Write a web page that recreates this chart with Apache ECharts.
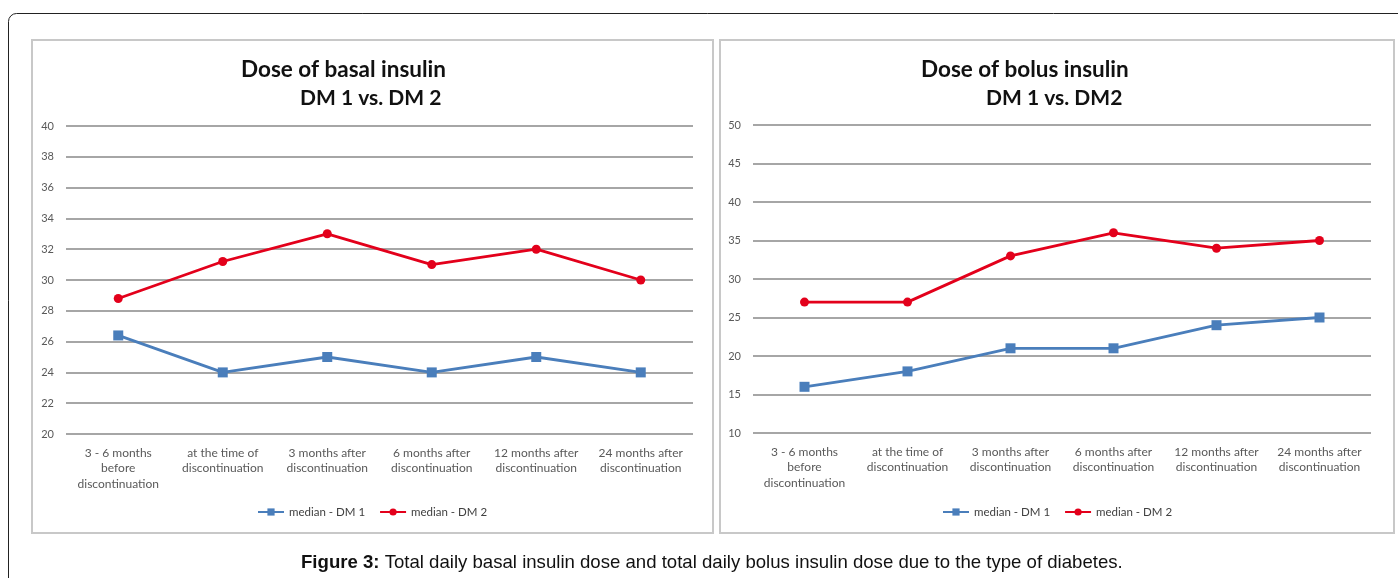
<!DOCTYPE html>
<html><head><meta charset="utf-8">
<script src="https://cdn.jsdelivr.net/npm/echarts@6/dist/echarts.min.js"></script>
<style>html,body{margin:0;padding:0;background:#fff}#c{width:1398px;height:578px}</style>
</head><body><div id="c"></div>
<script>
const categories = ["3 - 6 months\nbefore\ndiscontinuation","at the time of\ndiscontinuation","3 months after\ndiscontinuation","6 months after\ndiscontinuation","12 months after\ndiscontinuation","24 months after\ndiscontinuation"];
const basalDM1 = [26.4, 24, 25, 24, 25, 24];
const basalDM2 = [28.8, 31.2, 33, 31, 32, 30];
const bolusDM1 = [16, 18, 21, 21, 24, 25];
const bolusDM2 = [27, 27, 33, 36, 34, 35];
const basalTicks = {min: 20, max: 40, interval: 2};
const bolusTicks = {min: 10, max: 50, interval: 5};
const nameDM1 = "median - DM 1", nameDM2 = "median - DM 2";

const FONT = "Lato";
const blue = "#4a7ebb", red = "#e3001b";
const chart = echarts.init(document.getElementById('c'), null, {renderer:'canvas'});
function xAx(i){return {type:'category', gridIndex:i, data:categories, boundaryGap:true,
  axisLine:{show:false}, axisTick:{show:false},
  axisLabel:{interval:0, margin:11, color:'#595959', fontFamily:FONT, fontSize:12, lineHeight:15.5}};}
function yAx(i,t){return {type:'value', gridIndex:i, min:t.min, max:t.max, interval:t.interval,
  axisLine:{show:false}, axisTick:{show:false},
  axisLabel:{margin:12, color:'#595959', fontFamily:FONT, fontSize:11},
  splitLine:{lineStyle:{color:'#a6a6a6', width:1.8}}};}
function ser(name,i,data,color,sym){return {name:name, type:'line', xAxisIndex:i, yAxisIndex:i, data:data,
  symbol:sym, symbolSize:sym==='rect'?10:9, lineStyle:{color:color,width:2.8}, itemStyle:{color:color},
  animation:false};}
const legendCommon = {itemWidth:26, itemHeight:9, itemGap:14, textStyle:{color:'#404040', fontFamily:FONT, fontSize:11.5}};
chart.setOption({
  animation:false,
  title:[
    {text:'Dose of basal insulin', left:236, top:53, textStyle:{fontFamily:FONT, fontWeight:'bold', fontSize:22.5, color:'#111'}},
    {text:'DM 1 vs. DM 2', left:295, top:83, textStyle:{fontFamily:FONT, fontWeight:'bold', fontSize:21, color:'#111'}},
    {text:'Dose of bolus insulin', left:916, top:53, textStyle:{fontFamily:FONT, fontWeight:'bold', fontSize:22.5, color:'#111'}},
    {text:'DM 1 vs. DM2', left:981, top:83, textStyle:{fontFamily:FONT, fontWeight:'bold', fontSize:21, color:'#111'}},
    {text:'{b|Figure 3:} Total daily basal insulin dose and total daily bolus insulin dose due to the type of diabetes.', left:296, top:548,
     textStyle:{fontFamily:'Liberation Sans', fontSize:18.6, color:'#111', fontWeight:'normal', rich:{b:{fontFamily:'Liberation Sans', fontSize:18.6, fontWeight:'bold', color:'#111'}}}}
  ],
  graphic:[
    {type:'rect', shape:{x:8.5, y:13.5, width:1420, height:620, r:8}, style:{fill:'none', stroke:'#222', lineWidth:1}, silent:true},
    {type:'rect', shape:{x:32, y:40, width:681, height:493}, style:{fill:'none', stroke:'#c8c8c8', lineWidth:2}, silent:true},
    {type:'rect', shape:{x:720, y:40, width:674, height:493}, style:{fill:'none', stroke:'#c8c8c8', lineWidth:2}, silent:true}
  ],
  legend:[
    Object.assign({data:[nameDM1,nameDM2], left:252, top:501}, legendCommon),
    Object.assign({data:[nameDM1,nameDM2], left:937, top:501}, legendCommon)
  ],
  grid:[
    {left:66, top:126, width:627, height:308},
    {left:753, top:125, width:618, height:308}
  ],
  xAxis:[xAx(0), xAx(1)],
  yAxis:[yAx(0,basalTicks), yAx(1,bolusTicks)],
  series:[
    ser(nameDM1,0,basalDM1,blue,'rect'),
    ser(nameDM2,0,basalDM2,red,'circle'),
    ser(nameDM1,1,bolusDM1,blue,'rect'),
    ser(nameDM2,1,bolusDM2,red,'circle')
  ]
});
</script></body></html>
